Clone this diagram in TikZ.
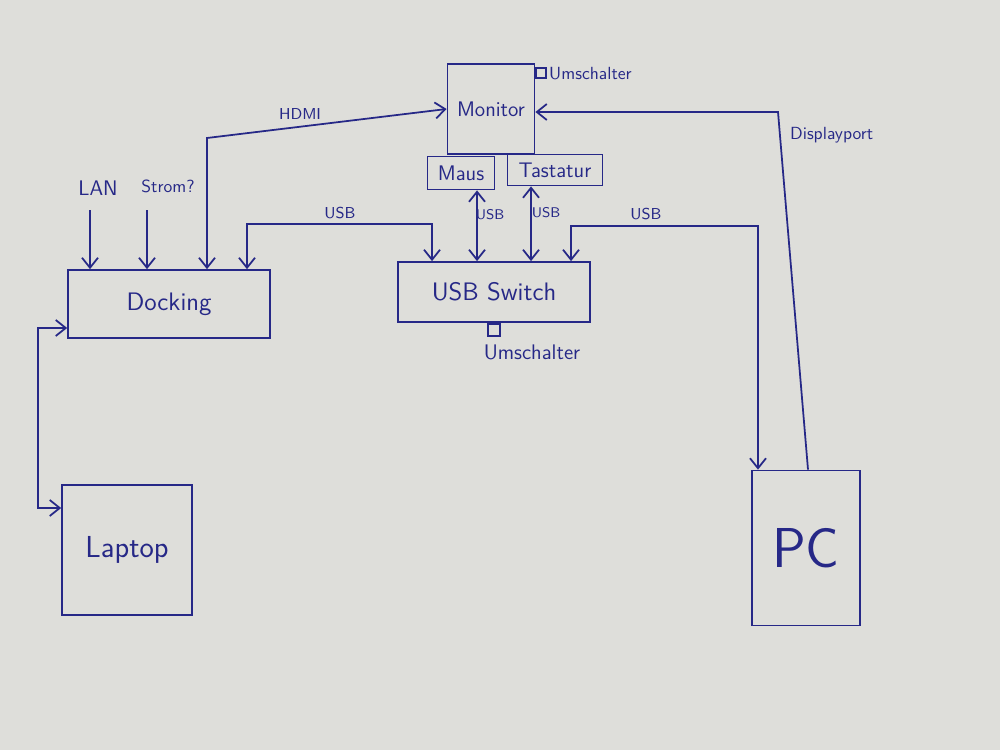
\documentclass[tikz,border=0pt]{standalone}
\usepackage{tikz}
\usetikzlibrary{arrows.meta,calc}
\definecolor{ink}{RGB}{38,40,135}
\definecolor{paper}{RGB}{222,222,218}
\tikzset{
  box/.style={draw=ink,line width=1pt,text=ink,inner sep=1pt,font=\sffamily},
  link/.style={draw=ink,line width=1pt,{Straight Barb[length=2mm,width=3.2mm]}-{Straight Barb[length=2mm,width=3.2mm]}},
  feed/.style={draw=ink,line width=1pt,-{Straight Barb[length=2mm,width=3.2mm]}},
  lab/.style={text=ink,font=\sffamily\small,inner sep=1pt},
  knob/.style={draw=ink,line width=1pt,inner sep=0pt},
}

\begin{document}
\begin{tikzpicture}[x=0.02cm,y=-0.02cm]
  \path[use as bounding box,fill=paper] (0,0) rectangle (1000,750);
  \node[box,minimum width=4.04cm,minimum height=1.36cm,font=\sffamily\Large] (docking) at (169,304) {Docking};
  \node[box,minimum width=1.74cm,minimum height=1.8cm,font=\sffamily\large] (monitor) at (491,109) {Monitor};
  \node[box,minimum width=1.34cm,minimum height=0.66cm,font=\sffamily\large] (maus) at (461,173) {Maus};
  \node[box,minimum width=1.9cm,minimum height=0.62cm,font=\sffamily\large] (tastatur) at (555,170) {Tastatur};
  \node[box,minimum width=3.84cm,minimum height=1.2cm,font=\sffamily\Large] (switch) at (494,292) {USB Switch};
  \node[box,minimum width=2.6cm,minimum height=2.6cm,font=\sffamily\LARGE] (laptop) at (127,550) {Laptop};
  \node[box,minimum width=2.16cm,minimum height=3.1cm,font=\sffamily\fontsize{32}{36}\selectfont] (pc) at (806,548) {PC};
  \node[knob,minimum size=0.2cm,anchor=west] (monknob) at ($(monitor.north east)+(0,10)$) {};
  \node[lab,anchor=west,font=\sffamily] (monumsch) at (monknob.east) {Umschalter};
  \node[knob,minimum size=0.24cm,anchor=north] (swknob) at (switch.south) {};
  \node[lab,font=\sffamily\large] (swumsch) at (532,352) {Umschalter};
  \node[lab,font=\sffamily\large] (lan) at (98,188) {LAN};
  \node[lab,font=\sffamily] (strom) at (168,186) {Strom?};
  \coordinate (lanA) at (90,210);
  \coordinate (stromA) at (147,210);
  \coordinate (hdmiK) at (207,138);
  \coordinate (usbA) at (247,224);
  \coordinate (usbB) at (432,224);
  \coordinate (mausK) at (477,200);
  \coordinate (tastK) at (531,200);
  \coordinate (swpcA) at (571,226);
  \coordinate (swpcB) at (758,226);
  \coordinate (dpK) at (778,112);
  \coordinate (dpB) at (808,112);
  \coordinate (lapA) at (38,508);
  \coordinate (lapB) at (38,328);
  \draw[feed] (lanA) -- (lanA |- docking.north);
  \draw[feed] (stromA) -- (stromA |- docking.north);
  \draw[link] (hdmiK |- docking.north) -- (hdmiK) -- (monitor.west);
  \node[lab] (hdmi) at (300,114) {HDMI};
  \draw[link] (usbA |- docking.north) -- (usbA) -- (usbB) -- (usbB |- switch.north);
  \node[lab] (usbdock) at (340,213) {USB};
  \draw[link] (mausK |- maus.south) -- (mausK |- switch.north);
  \node[lab,font=\sffamily\footnotesize] (usbmaus) at (490,215) {USB};
  \draw[link] (tastK |- tastatur.south) -- (tastK |- switch.north);
  \node[lab,font=\sffamily\footnotesize] (usbtast) at (546,213) {USB};
  \draw[link] (swpcA |- switch.north) -- (swpcA) -- (swpcB) -- (swpcB |- pc.north);
  \node[lab] (usbpc) at (646,214) {USB};
  \draw[feed] (dpB |- pc.north) -- (dpK) -- (monitor.east |- dpK);
  \node[lab,font=\sffamily,anchor=west] (dp) at (788,135) {Displayport};
  \draw[link] (laptop.west |- lapA) -- (lapA) -- (lapB) -- (docking.west |- lapB);
\end{tikzpicture}
\end{document}
